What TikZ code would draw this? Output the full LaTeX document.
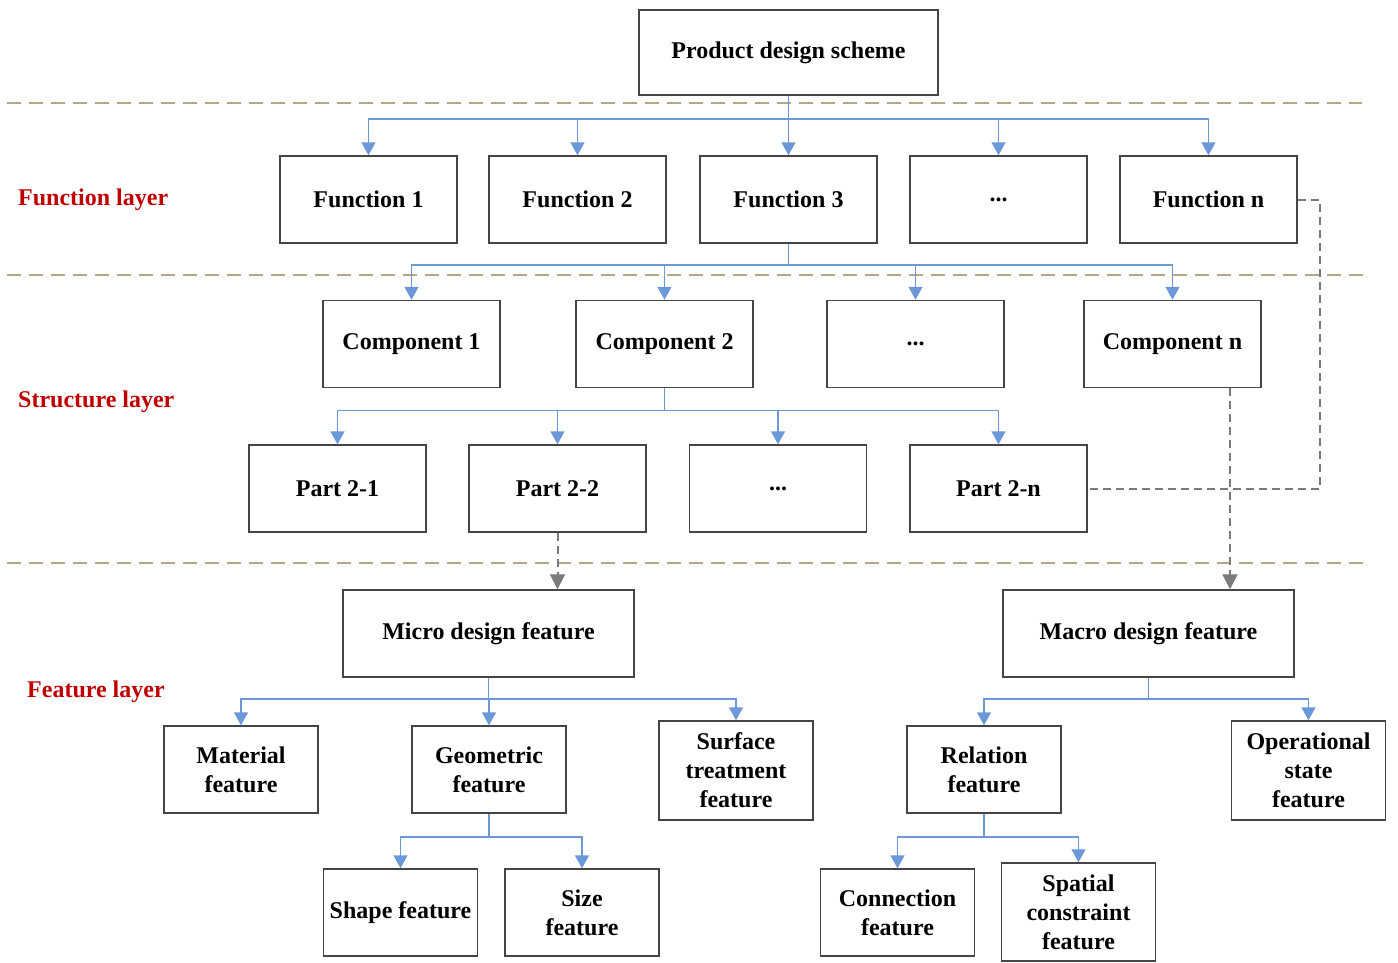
\documentclass[tikz,border=0pt]{standalone}
\usepackage{fontspec}
\setmainfont{Liberation Serif}
\usetikzlibrary{arrows.meta,calc}
\definecolor{conblue}{HTML}{6A98D8}
\definecolor{sepcol}{HTML}{B5A685}
\definecolor{boxcol}{HTML}{454545}
\definecolor{gcol}{HTML}{7A7A7A}
\definecolor{labred}{HTML}{C00000}
\tikzset{
  box/.style={draw=boxcol, line width=1.5pt, fill=white, rectangle, inner sep=2pt,
    minimum width=177pt, minimum height=87pt, align=center,
    font=\fontsize{24}{29}\selectfont\bfseries},
  fbox/.style={box, minimum width=154pt},
  tallbox/.style={box, minimum width=154pt, minimum height=99pt},
  widebox/.style={box, minimum width=291pt},
  conn/.style={draw=conblue, line width=1.5pt, -{Triangle[width=14pt,length=13pt]}},
  gconn/.style={draw=gcol, line width=2pt, dash pattern=on 8pt off 5pt},
  garrow/.style={gconn, -{Triangle[width=15pt,length=15pt]}},
  sepline/.style={draw=sepcol, line width=1.8pt, dash pattern=on 14pt off 8pt},
  layerlab/.style={anchor=west, text=labred, inner sep=0pt,
    font=\fontsize{24}{29}\selectfont\bfseries}
}
\begin{document}
\begin{tikzpicture}[x=1pt,y=-1pt]
\useasboundingbox (0,0) rectangle (1398,962);
% separators
\draw[sepline] (7,103) -- (1362,103);
\draw[sepline] (7,275) -- (1366,275);
\draw[sepline] (7,563) -- (1366,563);
% layer labels
\node[layerlab] (lf) at (18,200) {Function layer};
\node[layerlab] (ls) at (18,402) {Structure layer};
\node[layerlab] (lfe) at (27,692) {Feature layer};
% nodes
\node[box, minimum width=299pt, minimum height=85pt] (prod) at (788.5,52.5) {Product design scheme};
\node[box] (f1) at (368.5,199.5) {Function 1};
\node[box] (f2) at (577.5,199.5) {Function 2};
\node[box] (f3) at (788.5,199.5) {Function 3};
\node[box] (fd) at (998.5,199.5) {...};
\node[box] (fn) at (1208.5,199.5) {Function n};
\node[box] (c1) at (411.5,344) {Component 1};
\node[box] (c2) at (664.5,344) {Component 2};
\node[box] (cd) at (915.5,344) {...};
\node[box] (cn) at (1172.5,344) {Component n};
\node[box] (p1) at (337.5,488.5) {Part 2-1};
\node[box] (p2) at (557.5,488.5) {Part 2-2};
\node[box] (pd) at (778,488.5) {...};
\node[box] (pn) at (998.5,488.5) {Part 2-n};
\node[widebox] (micro) at (488.5,633.5) {Micro design feature};
\node[widebox] (macro) at (1148.5,633.5) {Macro design feature};
\node[fbox] (mat) at (241,769.5) {Material\\feature};
\node[fbox] (geo) at (489,769.5) {Geometric\\feature};
\node[tallbox] (surf) at (736,770.5) {Surface\\treatment\\feature};
\node[fbox] (rel) at (984,769.5) {Relation\\feature};
\node[tallbox] (oper) at (1308.5,770.5) {Operational\\state\\feature};
\node[fbox] (shape) at (400.5,912.5) {Shape feature};
\node[fbox] (size) at (582,912.5) {Size\\feature};
\node[fbox] (cnx) at (897.5,912.5) {Connection\\feature};
\node[tallbox, minimum height=98pt] (spat) at (1078.5,912) {Spatial\\constraint\\feature};
% blue connectors
\foreach \t in {f1,f2,f3,fd,fn} \draw[conn] (prod.south) -- ++(0,23) -| (\t.north);
\foreach \t in {c1,c2,cd,cn} \draw[conn] (f3.south) -- ++(0,21) -| (\t.north);
\foreach \t in {p1,p2,pd,pn} \draw[conn] (c2.south) -- ++(0,22) -| (\t.north);
\foreach \t in {mat,geo,surf} \draw[conn] (micro.south) -- ++(0,21) -| (\t.north);
\foreach \t in {shape,size} \draw[conn] (geo.south) -- ++(0,23) -| (\t.north);
\foreach \t in {rel,oper} \draw[conn] (macro.south) -- ++(0,21) -| (\t.north);
\foreach \t in {cnx,spat} \draw[conn] (rel.south) -- ++(0,23) -| (\t.north);
% gray dashed connectors
\draw[garrow] (p2.south) -- (p2.south |- micro.north);
\draw[garrow] ([xshift=57.5pt]cn.south) -- ([xshift=57.5pt]cn.south |- macro.north);
\draw[gconn] (fn.east) -- ++(22,0) |- (pn.east);
\end{tikzpicture}
\end{document}
